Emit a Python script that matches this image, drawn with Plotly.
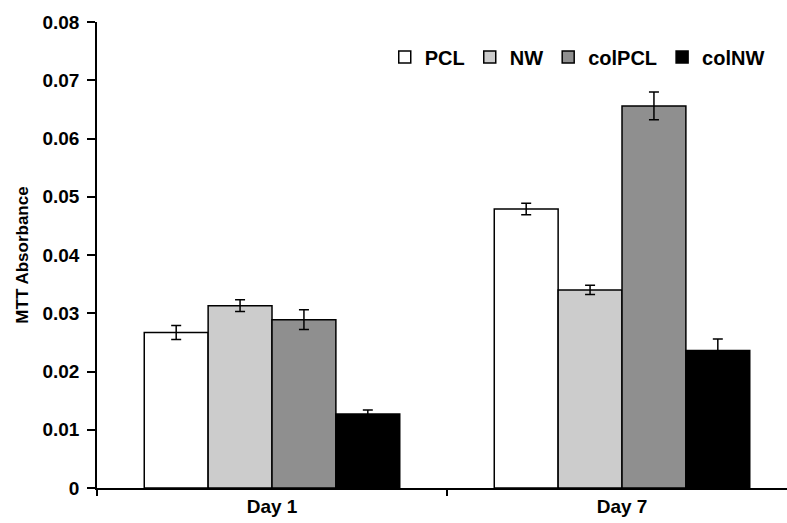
import plotly.graph_objects as go

categories = ["Day 1", "Day 7"]
series_names = ["PCL", "NW", "colPCL", "colNW"]
pcl = [0.0267, 0.0479]
nw = [0.0313, 0.0340]
colpcl = [0.0289, 0.0656]
colnw = [0.0127, 0.0236]
pcl_err = [0.0012, 0.0010]
nw_err = [0.0010, 0.0008]
colpcl_err = [0.0017, 0.0024]
colnw_err = [0.0007, 0.0020]
y_ticks = [0, 0.01, 0.02, 0.03, 0.04, 0.05, 0.06, 0.07, 0.08]
y_tick_labels = ["0", "0.01", "0.02", "0.03", "0.04", "0.05", "0.06", "0.07", "0.08"]

values = [pcl, nw, colpcl, colnw]
errors = [pcl_err, nw_err, colpcl_err, colnw_err]
colors = ["#ffffff", "#cccccc", "#8f8f8f", "#000000"]

font_family = "Liberation Sans, Arial, sans-serif"

fig = go.Figure()
for name, vals, errs, col in zip(series_names, values, errors, colors):
    fig.add_trace(go.Bar(
        name=name, x=categories, y=vals,
        marker=dict(color=col, line=dict(color="#000000", width=1.5)),
        error_y=dict(type="data", array=errs, visible=True, color="#000000",
                     thickness=1.5, width=5),
    ))

fig.update_layout(
    width=787, height=523,
    margin=dict(l=97, r=0, t=22, b=35, autoexpand=False),
    paper_bgcolor="white", plot_bgcolor="white",
    barmode="group", bargap=0.27, bargroupgap=0,
    font=dict(family=font_family, size=16, color="#000000", weight="bold"),
    showlegend=True,
    legend=dict(orientation="h", x=0.975, xanchor="right", y=0.925, yanchor="middle",
                font=dict(size=20, family=font_family, weight="bold"),
                bgcolor="rgba(0,0,0,0)", itemwidth=30, traceorder="normal",
                tracegroupgap=0),
    xaxis=dict(
        type="category", range=[-0.5, 1.4714], automargin=False,
        showline=True, linecolor="#000000", linewidth=1.5,
        tickson="boundaries", ticks="outside", ticklen=6, tickwidth=1.5,
        tickcolor="#000000", showgrid=False, zeroline=False,
        tickfont=dict(size=19, family=font_family, weight="bold"),
    ),
    yaxis=dict(
        range=[0, 0.08], tickvals=y_ticks, ticktext=y_tick_labels, automargin=False,
        showline=True, linecolor="#000000", linewidth=1.5,
        ticks="outside", ticklen=8, tickwidth=1.5, tickcolor="#000000",
        ticklabelstandoff=4,
        showgrid=False, zeroline=False,
        tickfont=dict(size=19, family=font_family, weight="bold"),
        title=dict(text="MTT Absorbance", standoff=10,
                   font=dict(size=17, family=font_family, weight="bold")),
    ),
)

fig.write_html("out.html", config={"displayModeBar": False},
               post_script="document.body.style.margin='0';")
